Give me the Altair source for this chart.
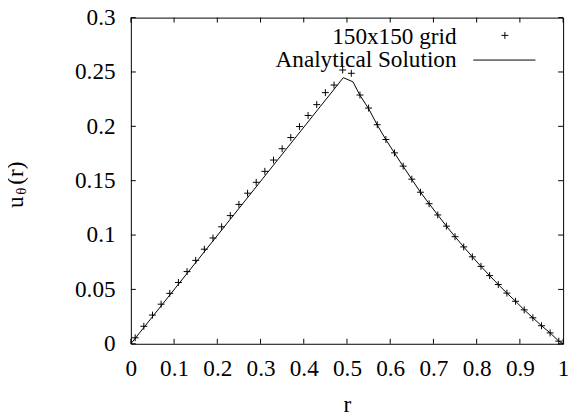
import altair as alt
import pandas as pd

# ---- data ----
grid_r = [0.01, 0.03, 0.05, 0.07, 0.09, 0.11, 0.13, 0.15, 0.17, 0.19,
          0.21, 0.23, 0.25, 0.27, 0.29, 0.31, 0.33, 0.35, 0.37, 0.39,
          0.41, 0.43, 0.45, 0.47, 0.49, 0.51, 0.53, 0.55, 0.57, 0.59,
          0.61, 0.63, 0.65, 0.67, 0.69, 0.71, 0.73, 0.75, 0.77, 0.79,
          0.81, 0.83, 0.85, 0.87, 0.89, 0.91, 0.93, 0.95, 0.97, 0.99]
grid_u = [0.0055, 0.0161, 0.0264, 0.0364, 0.0464, 0.0564, 0.0664, 0.0767, 0.0870, 0.0973,
          0.1076, 0.1179, 0.1282, 0.1385, 0.1485, 0.1586, 0.1690, 0.1794, 0.1897, 0.1998,
          0.2100, 0.2200, 0.2310, 0.2380, 0.2518, 0.2488, 0.2288, 0.2168, 0.2015, 0.1879,
          0.1756, 0.1634, 0.1514, 0.1394, 0.1288, 0.1185, 0.1082, 0.0985, 0.0891, 0.0800,
          0.0712, 0.0627, 0.0545, 0.0466, 0.0391, 0.0312, 0.0239, 0.0166, 0.0100, 0.0024]

exact_r = [0.0, 0.4916, 0.514, 0.53, 0.55, 0.57, 0.59, 0.61, 0.63, 0.65, 0.67, 0.69,
           0.71, 0.73, 0.75, 0.77, 0.79, 0.81, 0.83, 0.85, 0.87, 0.89, 0.91, 0.93,
           0.95, 0.97, 0.99, 1.0]
exact_u = [0.0, 0.2448, 0.2409, 0.2285, 0.2163, 0.2013, 0.1877, 0.1754, 0.1632, 0.1512,
           0.1394, 0.1288, 0.1185, 0.1082, 0.0985, 0.0891, 0.0800, 0.0712, 0.0627, 0.0545,
           0.0466, 0.0391, 0.0312, 0.0239, 0.0166, 0.0100, 0.0024, 0.0]

x_ticks = [0.0, 0.1, 0.2, 0.3, 0.4, 0.5, 0.6, 0.7, 0.8, 0.9, 1.0]
y_ticks = [0.0, 0.05, 0.1, 0.15, 0.2, 0.25, 0.3]
legend_labels = ["150x150 grid", "Analytical Solution"]

W, H = 438, 330.5
FONT = "Liberation Serif, Times New Roman, DejaVu Serif, serif"
FS = 23.5
TL = 5  # inner tick length

xscale = alt.Scale(domain=[0, 1], nice=False, zero=False)
yscale = alt.Scale(domain=[0, 0.3], nice=False, zero=False)

pts_df = pd.DataFrame({"r": grid_r, "u": grid_u})
line_df = pd.DataFrame({"r": exact_r, "u": exact_u})
xt_df = pd.DataFrame({"t": x_ticks})
yt_df = pd.DataFrame({"t": y_ticks})
one = pd.DataFrame({"a": [0]})

plus = "M-1,0L1,0M0,-1L0,1"

x_axis = alt.Axis(values=x_ticks, format=".2~f", labelFont=FONT, labelFontSize=FS,
                  labelColor="black", ticks=False, domain=False, grid=False,
                  labelBaseline="alphabetic", labelPadding=32, labelFlush=False,
                  labelOverlap=False, title="r", titleFont=FONT, titleFontSize=FS,
                  titleFontWeight="normal", titleColor="black",
                  titleBaseline="alphabetic", titleY=69)
y_axis = alt.Axis(values=y_ticks, format=".2~f", labelFont=FONT, labelFontSize=FS,
                  labelColor="black", ticks=False, domain=False, grid=False,
                  labelPadding=16, labelFlush=False, labelOverlap=False, title=None)

line = alt.Chart(line_df).mark_line(color="black", strokeWidth=1).encode(
    x=alt.X("r:Q", scale=xscale, axis=x_axis),
    y=alt.Y("u:Q", scale=yscale, axis=y_axis),
    order="r:Q",
)
points = alt.Chart(pts_df).mark_point(shape=plus, size=49, filled=False,
                                      color="black", strokeWidth=1, opacity=1).encode(
    x=alt.X("r:Q", scale=xscale),
    y=alt.Y("u:Q", scale=yscale),
)

# inner ticks (gnuplot style) on all four sides
xt_bot = alt.Chart(xt_df).mark_rule(color="black", strokeWidth=1).encode(
    x=alt.X("t:Q", scale=xscale), y=alt.value(H), y2=alt.value(H - TL))
xt_top = alt.Chart(xt_df).mark_rule(color="black", strokeWidth=1).encode(
    x=alt.X("t:Q", scale=xscale), y=alt.value(0), y2=alt.value(TL))
yt_left = alt.Chart(yt_df).mark_rule(color="black", strokeWidth=1).encode(
    y=alt.Y("t:Q", scale=yscale), x=alt.value(0), x2=alt.value(TL))
yt_right = alt.Chart(yt_df).mark_rule(color="black", strokeWidth=1).encode(
    y=alt.Y("t:Q", scale=yscale), x=alt.value(W), x2=alt.value(W - TL))

# legend (text on the left, sample on the right)
leg1 = alt.Chart(one).mark_text(font=FONT, fontSize=FS, align="right",
                                baseline="alphabetic", color="black").encode(
    x=alt.value(330), y=alt.value(26.5), text=alt.value(legend_labels[0]))
leg2 = alt.Chart(one).mark_text(font=FONT, fontSize=FS, align="right",
                                baseline="alphabetic", color="black").encode(
    x=alt.value(330), y=alt.value(50.2), text=alt.value(legend_labels[1]))
leg_pt = alt.Chart(one).mark_point(shape=plus, size=49, filled=False,
                                   color="black", strokeWidth=1, opacity=1).encode(
    x=alt.value(379), y=alt.value(18))
leg_ln = alt.Chart(one).mark_rule(color="black", strokeWidth=1).encode(
    x=alt.value(347), x2=alt.value(410), y=alt.value(43))

# y-axis title u_θ(r), rotated
yt_u = alt.Chart(one).mark_text(font=FONT, fontSize=FS, angle=270, align="center",
                                baseline="alphabetic", color="black").encode(
    x=alt.value(-109.5), y=alt.value(187), text=alt.value("u"))
yt_th = alt.Chart(one).mark_text(font=FONT, fontSize=15, angle=270, align="center",
                                 baseline="alphabetic", color="black").encode(
    x=alt.value(-106.5), y=alt.value(176), text=alt.value("θ"))
yt_r = alt.Chart(one).mark_text(font=FONT, fontSize=FS, angle=270, align="center",
                                baseline="alphabetic", color="black").encode(
    x=alt.value(-109.5), y=alt.value(157.5), text=alt.value("(r)"))

chart = alt.layer(
    line, points, xt_bot, xt_top, yt_left, yt_right,
    leg1, leg2, leg_pt, leg_ln, yt_u, yt_th, yt_r
).properties(
    width=W, height=H,
    autosize=alt.AutoSizeParams(type="none"),
    padding={"left": 124.5, "top": 7, "right": 8, "bottom": 75},
    background="white",
).configure_view(stroke="black", strokeWidth=1)

chart.save("out.html", embed_options={"renderer": "svg", "actions": False})
